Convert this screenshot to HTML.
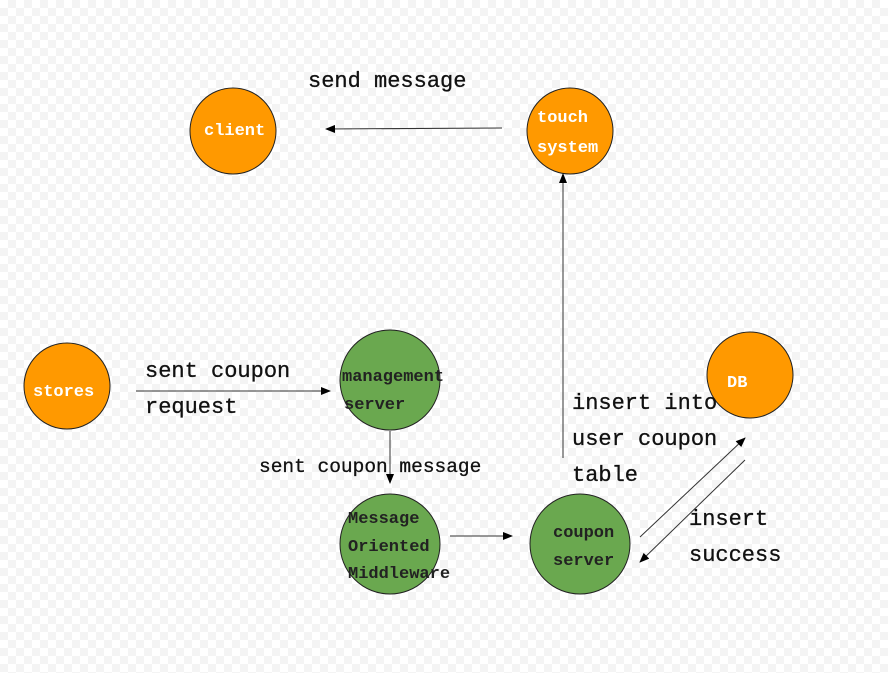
<!DOCTYPE html>
<html><head><style>
body{margin:0;width:888px;height:668px;overflow:hidden;
background-color:#fff;
background-image:conic-gradient(#f4f4f4 25%,#fff 0 50%,#f4f4f4 0 75%,#fff 0);
background-size:16px 16px;}
text{font-family:"Liberation Mono",monospace;}
</style></head><body>
<svg width="888" height="668" xmlns="http://www.w3.org/2000/svg">
<defs><marker id="a" markerWidth="10" markerHeight="8" refX="9" refY="4" orient="auto" markerUnits="userSpaceOnUse"><path d="M0,0 L10,4 L0,8 z" fill="#000"/></marker></defs>
<g stroke="#222" stroke-width="1">
<circle cx="233" cy="131" r="43" fill="#ff9900"/>
<circle cx="570" cy="131" r="43" fill="#ff9900"/>
<circle cx="67" cy="386" r="43" fill="#ff9900"/>
<circle cx="750" cy="375" r="43" fill="#ff9900"/>
<circle cx="390" cy="380" r="50" fill="#6aa84f"/>
<circle cx="390" cy="544" r="50" fill="#6aa84f"/>
<circle cx="580" cy="544" r="50" fill="#6aa84f"/>
</g>
<g stroke="#333" stroke-width="1" fill="none" marker-end="url(#a)">
<line x1="502" y1="128" x2="326" y2="129"/>
<line x1="563" y1="458" x2="563" y2="174"/>
<line x1="136" y1="391" x2="330" y2="391"/>
<line x1="390" y1="431" x2="390" y2="483"/>
<line x1="450" y1="536" x2="512" y2="536"/>
<line x1="640" y1="537" x2="745" y2="438"/>
<line x1="745" y1="460" x2="640" y2="562"/>
</g>
<g font-weight="bold" font-size="17" fill="#fff">
<text x="204" y="135">client</text>
<text x="537" y="122">touch</text>
<text x="537" y="152">system</text>
<text x="33" y="396">stores</text>
<text x="727" y="387">DB</text>
</g>
<g font-weight="bold" font-size="17" fill="#222">
<text x="342" y="381">management</text>
<text x="344" y="409">server</text>
<text x="348" y="523">Message</text>
<text x="348" y="551">Oriented</text>
<text x="348" y="578">Middleware</text>
<text x="553" y="537">coupon</text>
<text x="553" y="565">server</text>
</g>
<g font-size="22" fill="#111" stroke="#111" stroke-width="0.3">
<text x="308" y="87">send message</text>
<text x="145" y="377">sent coupon</text>
<text x="145" y="413">request</text>
<text x="259" y="472" font-size="19.5">sent coupon message</text>
<text x="572" y="409">insert into</text>
<text x="572" y="445">user coupon</text>
<text x="572" y="481">table</text>
<text x="689" y="525">insert</text>
<text x="689" y="561">success</text>
</g>
</svg>
</body></html>
